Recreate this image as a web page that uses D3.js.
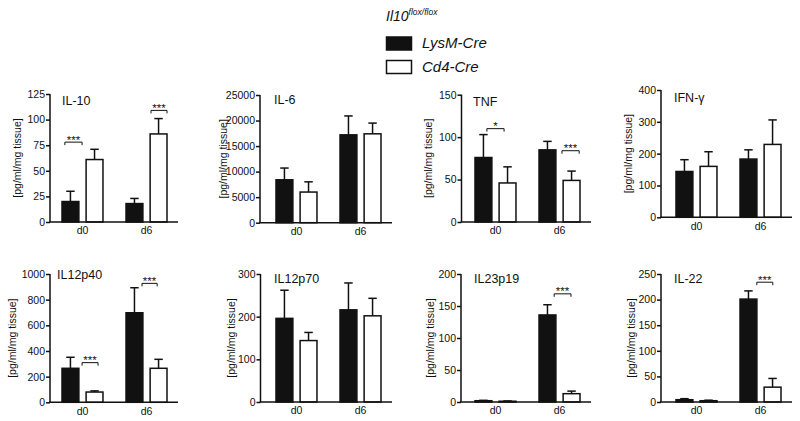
<!DOCTYPE html>
<html>
<head>
<meta charset="utf-8">
<script src="https://cdn.jsdelivr.net/npm/d3@7"></script>
<style>
  html, body { margin: 0; padding: 0; background: #fff; }
  svg { display: block; }
  text { font-family: "Liberation Sans", Arial, Helvetica, sans-serif; fill: #111; }
</style>
</head>
<body>
<svg id="chart" width="800" height="421"></svg>
<script>
// ---------------- DATA ----------------
const groups = ["d0", "d6"];
const series = ["LysM-Cre", "Cd4-Cre"];
const panelNames = ["IL-10", "IL-6", "TNF", "IFN-γ", "IL12p40", "IL12p70", "IL23p19", "IL-22"];
const yMax = [125, 25000, 150, 400, 1000, 300, 200, 250];
const yTickStep = [25, 5000, 50, 100, 200, 100, 50, 50];
// means [d0, d6]
const lysmMeans = [[20, 18], [8400, 17200], [76, 85], [144, 183], [265, 698], [196, 216], [2, 136], [4.5, 201]];
const lysmErr   = [[10, 5], [2300, 3700], [27, 10], [37, 29], [86, 195], [66, 63], [0.6, 16], [2, 16]];
const cd4Means  = [[61, 86], [6000, 17400], [46, 49], [160, 229], [80, 265], [144, 202], [1.2, 13], [2.5, 29]];
const cd4Err    = [[10, 15], [2000, 2100], [19, 11], [46, 77], [9, 70], [19, 41], [0.4, 4], [1, 17]];
// significance brackets: span given as fraction of group band, height in data units
const sigPanel = [0, 0, 2, 2, 4, 4, 6, 7];
const sigGroup = ["d0", "d6", "d0", "d6", "d0", "d6", "d6", "d6"];
const sigFrom  = [0.07, 0.61, 0.29, 0.56, 0.49, 0.39, 0.37, 0.41];
const sigTo    = [0.49, 1.00, 0.71, 0.98, 0.88, 0.76, 0.78, 0.80];
const sigY     = [78, 109, 110, 84, 309, 927, 169, 234];
const sigLabel = ["***", "***", "*", "***", "***", "***", "***", "***"];
const yLabelText = "[pg/ml/mg tissue]";
const legendTitle = "Il10";
const legendSup = "flox/flox";

// ---------------- LAYOUT ----------------
const axisX   = [50, 260, 461.5, 661, 50, 260.5, 461, 661];
const plotTop = [94, 95, 94.7, 90, 274, 274, 274, 274];
const plotBot = [222, 222.7, 222, 217.3, 402.3, 402, 402, 402];
const barStart = [62, 276, 475, 676, 62, 276, 475, 676];
const yLabelX = [17, 223, 428, 628, 12, 231, 430, 631];
const titleDx = [0, -2, -2, -2, -5, -2, -1, -2];
const titleDy = [11, 9, 11, 12, 5, 9, 9, 9];
const groupSpan = 105;
const ink = "#111";

const svg = d3.select("#chart");

panelNames.forEach((name, p) => {
  const g = svg.append("g");
  const y = d3.scaleLinear().domain([0, yMax[p]]).range([plotBot[p], plotTop[p]]);
  const x = d3.scaleBand().domain(groups).range([barStart[p], barStart[p] + groupSpan])
    .paddingInner(0.36).paddingOuter(0);
  const xs = d3.scaleBand().domain(series).range([0, x.bandwidth()]).paddingInner(0.3);
  const xEnd = barStart[p] + groupSpan + 11;

  // bars
  const rows = [];
  groups.forEach((grp, gi) => {
    rows.push({ grp, s: series[0], v: lysmMeans[p][gi], e: lysmErr[p][gi], fill: ink });
    rows.push({ grp, s: series[1], v: cd4Means[p][gi], e: cd4Err[p][gi], fill: "#fff" });
  });
  rows.forEach(d => {
    const bx = x(d.grp) + xs(d.s);
    const bw = xs.bandwidth();
    const cx = bx + bw / 2;
    // error bar (upper only)
    g.append("line").attr("x1", cx).attr("x2", cx)
      .attr("y1", y(d.v)).attr("y2", y(d.v + d.e))
      .attr("stroke", ink).attr("stroke-width", 1.5);
    g.append("line").attr("x1", cx - bw / 4).attr("x2", cx + bw / 4)
      .attr("y1", y(d.v + d.e)).attr("y2", y(d.v + d.e))
      .attr("stroke", ink).attr("stroke-width", 1.5);
    g.append("rect").attr("x", bx).attr("width", bw)
      .attr("y", y(d.v)).attr("height", Math.max(0.5, y(0) - y(d.v)))
      .attr("fill", d.fill).attr("stroke", ink).attr("stroke-width", 1.5);
  });

  // y axis
  const ticks = d3.range(0, yMax[p] + yTickStep[p] / 2, yTickStep[p]);
  const yAxis = d3.axisLeft(y).tickValues(ticks).tickSize(4).tickPadding(1).tickFormat(d3.format("d"));
  const ya = g.append("g").attr("transform", `translate(${axisX[p]},0)`).call(yAxis);
  ya.select(".domain").attr("d", `M0,${plotTop[p]}V${plotBot[p]}`).attr("stroke", ink).attr("stroke-width", 1.5);
  ya.selectAll(".tick line").attr("stroke", ink).attr("stroke-width", 1.5);
  ya.selectAll(".tick text").attr("font-size", "10.5px").attr("fill", ink)
    .style("font-family", "'Liberation Sans', Arial, sans-serif");

  // x axis
  const xAxis = d3.axisBottom(x).tickSize(0).tickPadding(5);
  const xa = g.append("g").attr("transform", `translate(0,${plotBot[p]})`).call(xAxis);
  xa.select(".domain").attr("d", `M${axisX[p] - 0.75},0H${xEnd}`).attr("stroke", ink).attr("stroke-width", 1.5);
  xa.selectAll(".tick text").attr("font-size", "10.5px").attr("fill", ink)
    .style("font-family", "'Liberation Sans', Arial, sans-serif");

  // title
  g.append("text").attr("x", barStart[p] + titleDx[p]).attr("y", plotTop[p] + titleDy[p])
    .attr("font-size", "12.5px").text(name);

  // y label
  const cy = (plotTop[p] + plotBot[p]) / 2;
  g.append("text").attr("transform", `translate(${yLabelX[p]},${cy}) rotate(-90)`)
    .attr("text-anchor", "middle").attr("dy", "0.35em").attr("font-size", "10.5px")
    .text(yLabelText);

  // significance
  sigPanel.forEach((sp, k) => {
    if (sp !== p) return;
    const x0 = x(sigGroup[k]) + sigFrom[k] * x.bandwidth();
    const x1 = x(sigGroup[k]) + sigTo[k] * x.bandwidth();
    const yy = y(sigY[k]);
    g.append("path").attr("d", `M${x0},${yy + 3}V${yy}H${x1}V${yy + 3}`)
      .attr("fill", "none").attr("stroke", ink).attr("stroke-width", 1);
    g.append("text").attr("x", (x0 + x1) / 2).attr("y", yy + 1.5)
      .attr("text-anchor", "middle").attr("font-size", "11.5px").text(sigLabel[k]);
  });
});

// ---------------- LEGEND ----------------
const lg = svg.append("g");
const head = lg.append("text").attr("x", 386).attr("y", 20.5).attr("font-size", "14px").attr("font-style", "italic");
head.append("tspan").text(legendTitle);
head.append("tspan").attr("font-size", "8.5px").attr("dy", "-6").text(legendSup);

const fills = [ink, "#fff"];
series.forEach((s, i) => {
  const yy = 37 + i * 23.5;
  lg.append("rect").attr("x", 386.5).attr("y", yy).attr("width", 25).attr("height", 13)
    .attr("fill", fills[i]).attr("stroke", ink).attr("stroke-width", 1.5);
  lg.append("text").attr("x", 422).attr("y", yy + 11).attr("font-size", "15px")
    .attr("font-style", "italic").text(s);
});
</script>
</body>
</html>
